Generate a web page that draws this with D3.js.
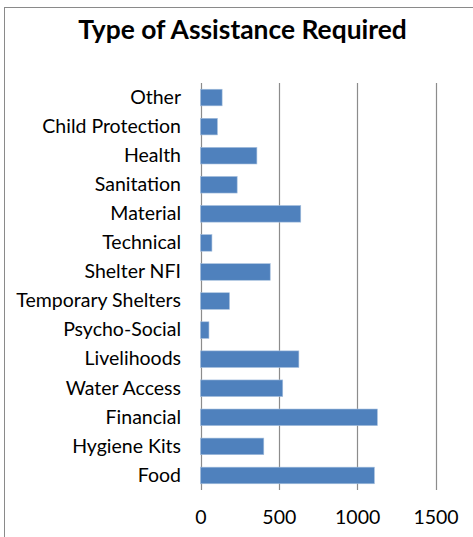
<!DOCTYPE html>
<html>
<head>
<meta charset="utf-8">
<script src="https://cdn.jsdelivr.net/npm/d3@7"></script>
<style>
  body { margin: 0; background: #fff; }
  svg { display: block; }
  text { font-family: Lato, "Open Sans", sans-serif; fill: #000; }
</style>
</head>
<body>
<div id="chart"></div>
<script>
// categories listed top to bottom, as in the chart
const categories = ["Other", "Child Protection", "Health", "Sanitation", "Material",
  "Technical", "Shelter NFI", "Temporary Shelters", "Psycho-Social", "Livelihoods",
  "Water Access", "Financial", "Hygiene Kits", "Food"]
const values = [138, 108, 360, 234, 640, 73, 445, 185, 54, 628, 525, 1129, 404, 1110]
const xTicks = [0, 500, 1000, 1500]
const title = "Type of Assistance Required"

const W = 473, H = 537
const plot = {left: 200.5, right: 435.5, top: 83, bottom: 490}

const svg = d3.select('#chart').append('svg')
    .attr('width', W)
    .attr('height', H)

// chart frame (only left and top edges fall inside the picture)
svg.append('rect')
    .attr('x', 4.5).attr('y', 7.5)
    .attr('width', W + 20).attr('height', H + 20)
    .attr('fill', '#fff')
    .attr('stroke', '#8a8a8a')
    .attr('stroke-width', 1)

svg.append('text')
    .attr('x', 242.5).attr('y', 39)
    .attr('text-anchor', 'middle')
    .style('font-weight', 'bold')
    .style('font-size', '26.4px')
    .text(title)

var x = d3.scaleLinear()
    .domain([0, 1500])
    .range([plot.left, plot.right])

var y = d3.scaleBand()
    .domain(categories)
    .range([plot.top, plot.bottom])
    .paddingInner(0.75 / 1.75)
    .paddingOuter(0.375 / 1.75)

// vertical gridlines
svg.append('g')
    .selectAll('line')
    .data(xTicks)
    .join('line')
    .attr('x1', d => Math.round(x(d)) + 0.5)
    .attr('x2', d => Math.round(x(d)) + 0.5)
    .attr('y1', plot.top)
    .attr('y2', plot.bottom)
    .attr('stroke', '#8c8c8c')
    .attr('stroke-width', 1.2)

// bars
svg.append('g')
    .selectAll('rect')
    .data(categories)
    .join('rect')
    .attr('x', x(0))
    .attr('y', d => y(d))
    .attr('width', (d, i) => x(values[i]) - x(0))
    .attr('height', y.bandwidth())
    .attr('fill', '#4f81bd')
    .attr('stroke', '#a7c0de')
    .attr('stroke-width', 0.6)

// x axis labels
const xAxis = svg.append('g')
    .attr('transform', 'translate(0,' + plot.bottom + ')')
    .call(d3.axisBottom(x).tickValues(xTicks).tickFormat(d3.format('d')).tickSize(0).tickPadding(20))
xAxis.select('.domain').remove()
xAxis.selectAll('text')
    .style('font-family', 'Lato, "Open Sans", sans-serif')
    .style('font-size', '19.5px')
    .attr('fill', '#000')

// category labels
const yAxis = svg.append('g')
    .attr('transform', 'translate(' + (plot.left - 19.5) + ',0)')
    .call(d3.axisLeft(y).tickSize(0).tickPadding(0))
yAxis.select('.domain').remove()
yAxis.selectAll('text')
    .style('font-family', 'Lato, "Open Sans", sans-serif')
    .style('font-size', '19.5px')
    .attr('fill', '#000')
</script>
</body>
</html>
